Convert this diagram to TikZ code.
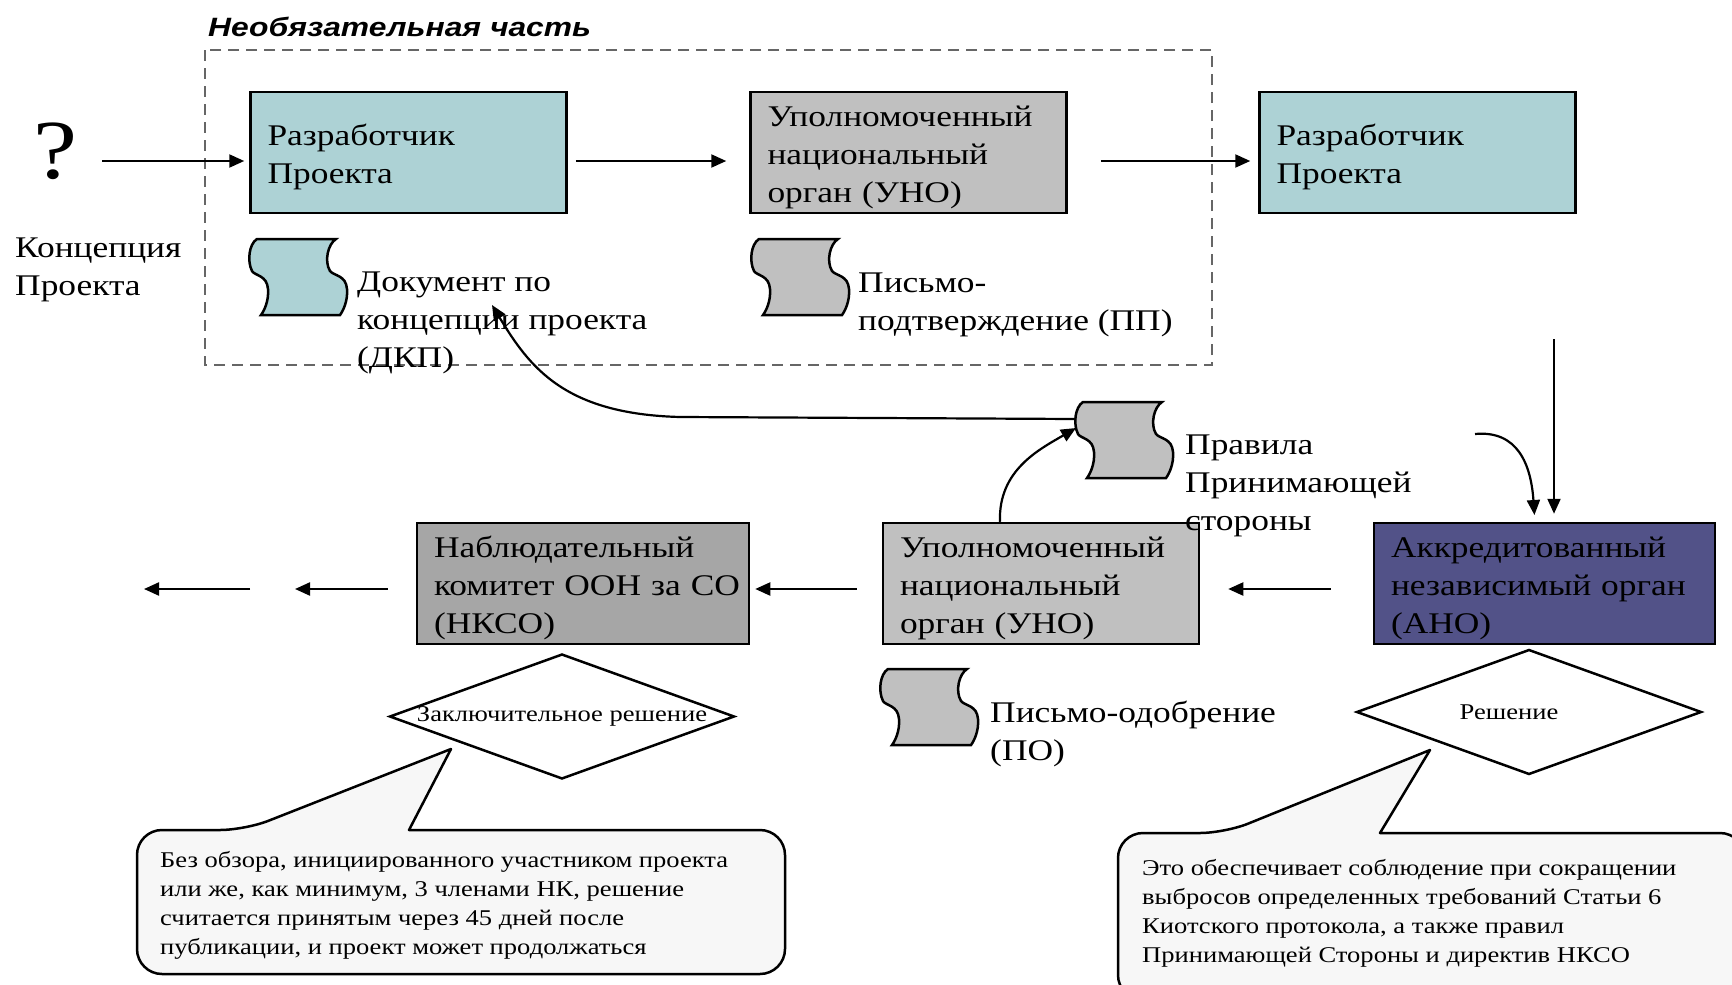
\documentclass[tikz,border=0pt]{standalone}
\usepackage{fontspec}
\setmainfont{Liberation Serif}[FakeStretch=1.18]
\newfontfamily\headfont{Liberation Sans}[FakeStretch=1.2]
\usetikzlibrary{positioning}
\usetikzlibrary{arrows.meta,shapes.geometric}

\definecolor{devteal}{HTML}{ADD2D5}
\definecolor{unogray}{HTML}{C0C0C0}
\definecolor{nksogray}{HTML}{A6A6A6}
\definecolor{anoblue}{HTML}{525288}
\definecolor{bubblefill}{HTML}{F7F7F7}
\definecolor{framegray}{HTML}{666666}

\tikzset{
  box/.style={draw, line width=2.5pt, minimum height=121pt, inner xsep=17pt,
    text width=282pt, text height=30pt, align=left, font=\fontsize{30}{38}\selectfont},
  note/.style={anchor=base west, inner sep=0pt, align=left, font=\fontsize{30}{38}\selectfont},
  small/.style={font=\fontsize{22.5}{29}\selectfont},
  arr/.style={line width=2.2pt, -{Triangle[length=15pt,width=13pt]}},
  decision/.style={draw, diamond, line width=2.5pt, fill=white,
    minimum width=345pt, minimum height=125pt, inner sep=0pt},
  bubble/.style={draw, line width=2.5pt, fill=bubblefill, line join=round},
  optframe/.style={draw=framegray, line width=2pt, dash pattern=on 11pt off 7pt},
  pics/tape/.style={code={
    \filldraw[line width=2.5pt, fill=#1] (0,0) -- (79,0)
      .. controls (71,5) and (67,22) .. (73,32)
      .. controls (77,37) and (89,36) .. (90,50)
      .. controls (91,62) and (86,72) .. (83,76) -- (4,76)
      .. controls (7,72) and (12,62) .. (11,50)
      .. controls (10,36) and (-2,37) .. (-5,32)
      .. controls (-10,22) and (-8,5) .. (0,0) -- cycle;
    \coordinate (-in) at (-7,26);
    \coordinate (-out) at (-7,17);
  }}
}

\begin{document}
\begin{tikzpicture}[x=1pt,y=-1pt]
\clip (0,0) rectangle (1732,985);
\fill[white] (0,0) rectangle (1732,985);

% optional part
\draw[optframe] (205,50) rectangle (1212,365);
\node[anchor=base west, inner sep=0pt, font=\headfont\bfseries\itshape\fontsize{26.5}{30}\selectfont] (opt) at (208,36) {Необязательная часть};

% upper row
\node[anchor=base, inner sep=0pt, font=\fontsize{84}{84}\selectfont] (q) at (55,178) {?};
\node[note] (concept) at (15,295) {Концепция\\Проекта};
\node[box, fill=devteal] (dev1) at (408.5,152.5) {Разработчик\\Проекта};
\node[box, fill=unogray] (uno1) at (908.5,152.5) {Уполномоченный\\национальный\\орган (УНО)};
\node[box, fill=devteal] (dev2) at (1417.5,152.5) {Разработчик\\Проекта};

\pic (dkpdoc) at (257,239) {tape=devteal};
\node[note] (dkp) at (357,367) {Документ по\\концепции проекта\\(ДКП)};
\pic (ppdoc) at (759,239) {tape=unogray};
\node[note] (pp) at (858,330) {Письмо-\\подтверждение (ПП)};

\coordinate (qa) at (102,161);
\draw[arr, shorten >=5pt] (qa) -- (qa -| dev1.west);
\draw[arr, shorten <=8pt, shorten >=23pt] (dev1.east |- qa) -- (uno1.west |- qa);
\draw[arr, shorten <=33pt, shorten >=8pt] (uno1.east |- qa) -- (dev2.west |- qa);

% lower row
\node[box, fill=nksogray, text width=298pt] (nkso) at (583,583.5) {Наблюдательный\\\mbox{комитет ООН за СО}\\(НКСО)};
\node[box, fill=unogray] (uno2) at (1041,583.5) {Уполномоченный\\национальный\\орган (УНО)};
\node[box, fill=anoblue, text width=307pt] (ano) at (1544.5,583.5) {Аккредитованный\\независимый орган\\(АНО)};

\pic (rules) at (1083,402) {tape=unogray};
\node[note] (rulestxt) at (1185,530) {Правила\\Принимающей\\стороны};
\pic (podoc) at (888,669) {tape=unogray};
\node[note] (po) at (990,760) {Письмо-одобрение\\(ПО)};

\coordinate (row) at (0,589);
\coordinate (out1) at (295,589);
\coordinate (gap1) at (250,589);
\coordinate (gap2) at (144,589);
\draw[arr, shorten <=42pt, shorten >=28pt] (ano.west |- row) -- (uno2.east |- row);
\draw[arr, shorten <=25pt, shorten >=5pt] (uno2.west |- row) -- (nkso.east |- row);
\draw[arr, shorten <=28pt] (nkso.west |- row) -- (out1);
\draw[arr] (gap1) -- (gap2);

% into the AIE
\coordinate (vtop) at (1554,339);
\coordinate (hook) at (1475,434);
\draw[arr, shorten >=8pt] (vtop) -- (vtop |- ano.north);
\draw[arr, shorten >=8pt] (hook) .. controls (1518,430) and (1531,465) .. (1535,523);

% host party rules
\coordinate (dkptip) at (492,305);
\draw[arr] ([xshift=-41pt]uno2.north) .. controls (998,470) and (1040,449) .. (rules-in);
\draw[arr] (rules-out) -- (680,417) .. controls (565,414) and (530,368) .. (dkptip);

% decisions
\node[decision, label={[small]center:Заключительное решение}] (final) at (562,716.5) {};
\node[decision, label={[small, xshift=-20pt]center:Решение}] (verdict) at (1529,712) {};

\filldraw[bubble] (409,830) [rounded corners=25pt] -- (785,830) -- (785,974) -- (137,974)
  -- (137,830) -- (245,830) [sharp corners] -- (451,749) -- cycle;
\node[small, anchor=base west, inner sep=0pt, align=left] (review) at (160,954)
  {Без обзора, инициированного участником проекта\\или же, как минимум, 3 членами НК, решение\\считается принятым через 45 дней после\\публикации, и проект может продолжаться};

\filldraw[bubble] (1380,833) [rounded corners=25pt] -- (1745,833) -- (1745,1000) -- (1118,1000)
  -- (1118,833) -- (1225,833) [sharp corners] -- (1430,750) -- cycle;
\node[small, anchor=base west, inner sep=0pt, align=left] (comply) at (1142,962)
  {Это обеспечивает соблюдение при сокращении\\выбросов определенных требований Статьи 6\\Киотского протокола, а также правил\\Принимающей Стороны и директив НКСО};
\end{tikzpicture}
\end{document}
